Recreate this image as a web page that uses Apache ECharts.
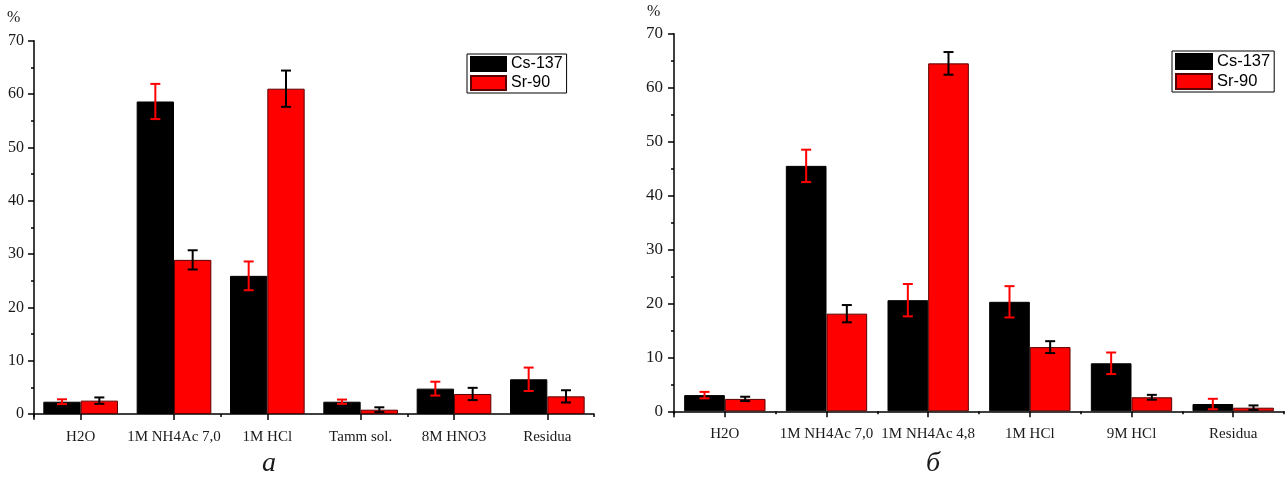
<!DOCTYPE html>
<html>
<head>
<meta charset="utf-8">
<script src="https://cdn.jsdelivr.net/npm/echarts@6/dist/echarts.min.js"></script>
<style>
  html, body { margin: 0; padding: 0; background: #fff; }
  #chart { width: 1285px; height: 483px; }
</style>
</head>
<body>
<div id="chart"></div>
<script>
// chart a
const catsA = ['H2O', '1M NH4Ac 7,0', '1M HCl', 'Tamm sol.', '8M HNO3', 'Residua'];
const csA = [2.3, 58.6, 25.9, 2.3, 4.75, 6.5];
const csErrA = [0.45, 3.3, 2.7, 0.4, 1.3, 2.2];
const srA = [2.5, 28.9, 61.0, 0.8, 3.75, 3.3];
const srErrA = [0.6, 1.8, 3.4, 0.45, 1.15, 1.15];

// chart б
const catsB = ['H2O', '1M NH4Ac 7,0', '1M NH4Ac 4,8', '1M HCl', '9M HCl', 'Residua'];
const csB = [3.0, 45.5, 20.6, 20.3, 8.9, 1.35];
const csErrB = [0.6, 3.0, 3.0, 2.9, 2.0, 0.97];
const srB = [2.3, 18.1, 64.5, 11.9, 2.6, 0.67];
const srErrB = [0.4, 1.6, 2.1, 1.1, 0.45, 0.42];

const yTicks = [0, 10, 20, 30, 40, 50, 60, 70];
const yMinor = [5, 15, 25, 35, 45, 55, 65];

const serif = 'Liberation Serif';
const chart = echarts.init(document.getElementById('chart'));

function errData(vals, errs) {
  return vals.map((v, i) => [i, v, errs[i]]);
}

// error bar drawn on top of a bar, shift = offset from category centre in band widths
function errRender(shift, color) {
  return function (params, api) {
    const i = api.value(0), v = api.value(1), e = api.value(2);
    const band = api.size([1, 0])[0];
    const hi = api.coord([i, v + e]);
    const lo = api.coord([i, v - e]);
    const x = hi[0] + shift * band;
    const st = { stroke: color, lineWidth: 2 };
    return {
      type: 'group',
      children: [
        { type: 'line', shape: { x1: x, y1: hi[1], x2: x, y2: lo[1] }, style: st },
        { type: 'line', shape: { x1: x - 5, y1: hi[1], x2: x + 5, y2: hi[1] }, style: st },
        { type: 'line', shape: { x1: x - 5, y1: lo[1], x2: x + 5, y2: lo[1] }, style: st }
      ]
    };
  };
}

function mainY(grid, size, margin) {
  return {
    type: 'value', gridIndex: grid, position: 'left', min: -1, max: 70,
    axisLine: { show: true, lineStyle: { color: '#000', width: 1.5 } },
    axisTick: { show: true, customValues: yTicks, length: 6, lineStyle: { color: '#000', width: 1.5 } },
    axisLabel: { customValues: yTicks, margin: margin, color: '#1a1a1a', fontFamily: serif, fontSize: size },
    splitLine: { show: false }
  };
}
function minorY(grid) {
  return {
    type: 'value', gridIndex: grid, position: 'left', min: -1, max: 70,
    axisLine: { show: false },
    axisTick: { show: true, customValues: yMinor, length: 3, lineStyle: { color: '#000', width: 1.5 } },
    axisLabel: { show: false },
    splitLine: { show: false }
  };
}
function mainX(grid, cats) {
  return {
    type: 'category', gridIndex: grid, position: 'bottom', data: cats,
    axisLine: { show: true, lineStyle: { color: '#000', width: 1.5 } },
    axisTick: { show: true, alignWithLabel: true, length: 6, lineStyle: { color: '#000', width: 1.5 } },
    axisLabel: { margin: 10, color: '#1a1a1a', fontFamily: serif, fontSize: 15, interval: 0 }
  };
}
function minorX(grid, cats) {
  return {
    type: 'category', gridIndex: grid, position: 'bottom', data: cats,
    axisLine: { show: false },
    axisTick: { show: true, length: 3, lineStyle: { color: '#000', width: 1.5 } },
    axisLabel: { show: false }
  };
}
function legendAt(left, top, w, h, size) {
  return {
    left: left, top: top, orient: 'vertical', selectedMode: false,
    data: ['Cs-137', 'Sr-90'], icon: 'rect',
    itemWidth: w, itemHeight: h, itemGap: 3,
    padding: [2, 4, 2, 3],
    borderColor: '#000', borderWidth: 1,
    textStyle: { fontFamily: 'Liberation Sans', fontSize: size, color: '#000' }
  };
}
function bars(name, data, xi, color) {
  return {
    name: name, type: 'bar', xAxisIndex: xi, yAxisIndex: xi, data: data,
    barGap: '0%', barCategoryGap: '20%',
    itemStyle: { color: color, borderColor: color === '#000' ? '#000' : '#5a0000', borderWidth: 1 }
  };
}
function errs(vals, e, xi, shift, color) {
  return {
    type: 'custom', xAxisIndex: xi, yAxisIndex: xi, z: 5,
    data: errData(vals, e), encode: { x: 0, y: 1 },
    renderItem: errRender(shift, color)
  };
}

chart.setOption({
  animation: false,
  grid: [
    { left: 34, top: 40.7, width: 560, height: 378.6 },
    { left: 674, top: 33.7, width: 610, height: 383 }
  ],
  xAxis: [mainX(0, catsA), minorX(0, catsA), mainX(1, catsB), minorX(1, catsB)],
  yAxis: [mainY(0, 16, 10), minorY(0), mainY(1, 17, 11), minorY(1)],
  legend: [legendAt(467, 54, 35, 14, 16), legendAt(1172, 51, 36, 15, 16.5)],
  series: [
    bars('Cs-137', csA, 0, '#000'),
    bars('Sr-90', srA, 0, '#ff0000'),
    errs(csA, csErrA, 0, -0.2, '#ff0000'),
    errs(srA, srErrA, 0, 0.2, '#000'),
    bars('Cs-137', csB, 2, '#000'),
    bars('Sr-90', srB, 2, '#ff0000'),
    errs(csB, csErrB, 2, -0.2, '#ff0000'),
    errs(srB, srErrB, 2, 0.2, '#000')
  ],
  graphic: [
    { type: 'text', left: 7, top: 10, style: { text: '%', font: '16px "Liberation Serif"', fill: '#1a1a1a' } },
    { type: 'text', left: 647, top: 4, style: { text: '%', font: '16px "Liberation Serif"', fill: '#1a1a1a' } },
    { type: 'text', left: 262, top: 450, style: { text: 'а', font: 'italic 28px "Liberation Serif"', fill: '#1a1a1a' } },
    { type: 'text', left: 926, top: 450, style: { text: 'б', font: 'italic 28px "Liberation Serif"', fill: '#1a1a1a' } }
  ]
});
</script>
</body>
</html>
